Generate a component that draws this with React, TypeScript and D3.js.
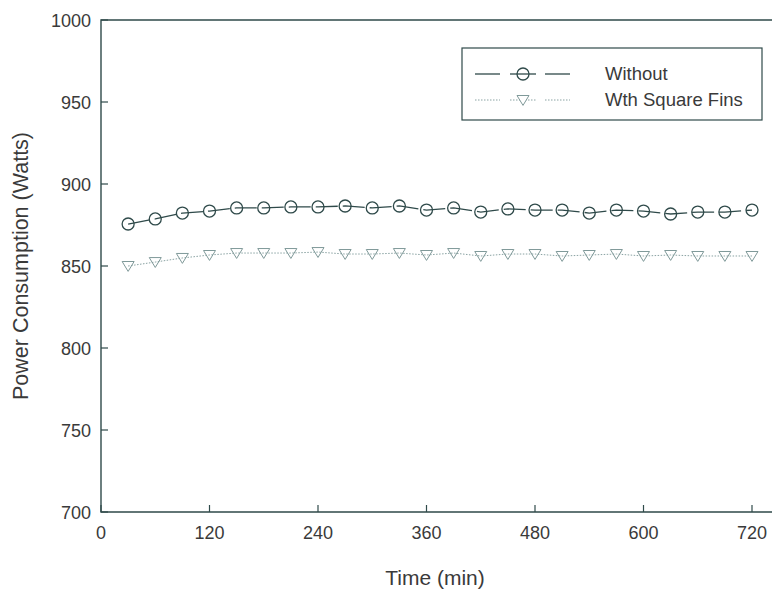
import * as d3 from 'd3';
import { useRef, useEffect } from 'react';

// Tiempo (min) y consumo de potencia (W)
const times = [30, 60, 90, 120, 150, 180, 210, 240, 270, 300, 330, 360, 390, 420, 450, 480, 510, 540, 570, 600, 630, 660, 690, 720];
const withoutFins = [875.6, 878.7, 882.3, 883.5, 885.4, 885.4, 886.0, 886.0, 886.6, 885.4, 886.6, 884.1, 885.4, 882.9, 884.8, 884.1, 884.1, 882.3, 884.1, 883.5, 881.7, 882.9, 882.9, 884.1];
const squareFins = [850.0, 852.4, 854.9, 856.7, 857.9, 857.9, 857.9, 858.5, 857.3, 857.3, 857.9, 856.7, 857.9, 856.1, 857.3, 857.3, 856.1, 856.7, 857.3, 856.1, 856.7, 856.1, 856.1, 856.1];
const xTicks = [0, 120, 240, 360, 480, 600, 720];
const yTicks = [700, 750, 800, 850, 900, 950, 1000];
const seriesNames = ['Without', 'Wth Square Fins'];

const App = () => {
  const svgRef = useRef<SVGSVGElement | null>(null);

  useEffect(() => {
    const width = 772;
    const height = 589;
    const font = 'Liberation Sans, Arial, sans-serif';
    const axisColor = '#2f4a4a';
    const textColor = '#3a3a3a';

    d3.select(svgRef.current).selectAll('*').remove();
    const svg = d3.select(svgRef.current).attr('width', width).attr('height', height);

    const x = d3.scaleLinear().domain([0, 720]).range([101, 752]);
    const y = d3.scaleLinear().domain([700, 1000]).range([512, 20]);

    // Marco del área de trazado (el borde derecho queda fuera de la ventana)
    svg
      .append('path')
      .attr('d', `M${x(760)},${y(1000)}H${x(0)}V${y(700)}H${x(760)}`)
      .attr('fill', 'none')
      .attr('stroke', axisColor)
      .attr('stroke-width', 1.4);

    // Marcas Y
    yTicks.forEach((v) => {
      svg
        .append('line')
        .attr('x1', x(0))
        .attr('x2', x(0) + 7)
        .attr('y1', y(v))
        .attr('y2', y(v))
        .attr('stroke', axisColor)
        .attr('stroke-width', 1.2);
      svg
        .append('text')
        .attr('x', 91)
        .attr('y', y(v) + 6.5)
        .attr('text-anchor', 'end')
        .attr('font-family', font)
        .attr('font-size', '18px')
        .attr('fill', textColor)
        .text(v);
    });

    // Marcas X
    xTicks.forEach((v) => {
      svg
        .append('line')
        .attr('x1', x(v))
        .attr('x2', x(v))
        .attr('y1', y(700))
        .attr('y2', y(700) - 7)
        .attr('stroke', axisColor)
        .attr('stroke-width', 1.2);
      svg
        .append('text')
        .attr('x', x(v))
        .attr('y', 539)
        .attr('text-anchor', 'middle')
        .attr('font-family', font)
        .attr('font-size', '18px')
        .attr('fill', textColor)
        .text(v);
    });

    // Títulos de ejes
    svg
      .append('text')
      .attr('x', 435)
      .attr('y', 585)
      .attr('text-anchor', 'middle')
      .attr('font-family', font)
      .attr('font-size', '21px')
      .attr('fill', textColor)
      .text('Time (min)');

    svg
      .append('text')
      .attr('transform', `translate(28,266) rotate(-90)`)
      .attr('text-anchor', 'middle')
      .attr('font-family', font)
      .attr('font-size', '21.5px')
      .attr('fill', textColor)
      .text('Power Consumption (Watts)');

    const line = d3
      .line<number>()
      .x((_, i) => x(times[i]))
      .y((d) => y(d));

    const tri = (cx: number, cy: number, s: number) =>
      `M${cx - s},${cy - s * 0.75}L${cx + s},${cy - s * 0.75}L${cx},${cy + s * 0.9}Z`;

    // Serie sin aletas
    svg
      .append('path')
      .datum(withoutFins)
      .attr('d', line)
      .attr('fill', 'none')
      .attr('stroke', '#2f4a4a')
      .attr('stroke-width', 1.3)
      .attr('stroke-dasharray', '22,5');

    withoutFins.forEach((v, i) => {
      svg
        .append('circle')
        .attr('cx', x(times[i]))
        .attr('cy', y(v))
        .attr('r', 6)
        .attr('fill', 'none')
        .attr('stroke', '#2f4a4a')
        .attr('stroke-width', 1.3);
    });

    // Serie con aletas cuadradas
    svg
      .append('path')
      .datum(squareFins)
      .attr('d', line)
      .attr('fill', 'none')
      .attr('stroke', '#8aa3a3')
      .attr('stroke-width', 1)
      .attr('stroke-dasharray', '1.5,1.5');

    squareFins.forEach((v, i) => {
      svg
        .append('path')
        .attr('d', tri(x(times[i]), y(v), 6))
        .attr('fill', 'none')
        .attr('stroke', '#7f9999')
        .attr('stroke-width', 1);
    });

    // Leyenda
    const lg = svg.append('g');
    lg.append('rect')
      .attr('x', 462)
      .attr('y', 48)
      .attr('width', 300)
      .attr('height', 72)
      .attr('fill', 'white')
      .attr('stroke', axisColor)
      .attr('stroke-width', 1.2);

    const rows = [74, 100];
    rows.forEach((ry, k) => {
      const stroke = k === 0 ? '#2f4a4a' : '#8aa3a3';
      [
        [475, 500],
        [510, 536],
        [545, 570],
      ].forEach(([a, b]) => {
        lg.append('line')
          .attr('x1', a)
          .attr('x2', b)
          .attr('y1', ry)
          .attr('y2', ry)
          .attr('stroke', stroke)
          .attr('stroke-width', k === 0 ? 1.3 : 1)
          .attr('stroke-dasharray', k === 0 ? null : '1.5,1.5');
      });
      if (k === 0) {
        lg.append('circle')
          .attr('cx', 523)
          .attr('cy', ry)
          .attr('r', 6)
          .attr('fill', 'none')
          .attr('stroke', stroke)
          .attr('stroke-width', 1.3);
      } else {
        lg.append('path')
          .attr('d', tri(523, ry, 6))
          .attr('fill', 'white')
          .attr('stroke', '#7f9999')
          .attr('stroke-width', 1);
      }
      lg.append('text')
        .attr('x', 605)
        .attr('y', ry + 6)
        .attr('font-family', font)
        .attr('font-size', '18.5px')
        .attr('fill', textColor)
        .text(seriesNames[k]);
    });
  }, []);

  return (
    <div style={{ position: 'absolute', left: 0, top: 0 }}>
      <svg ref={svgRef} style={{ display: 'block' }} />
    </div>
  );
};

export default App;
